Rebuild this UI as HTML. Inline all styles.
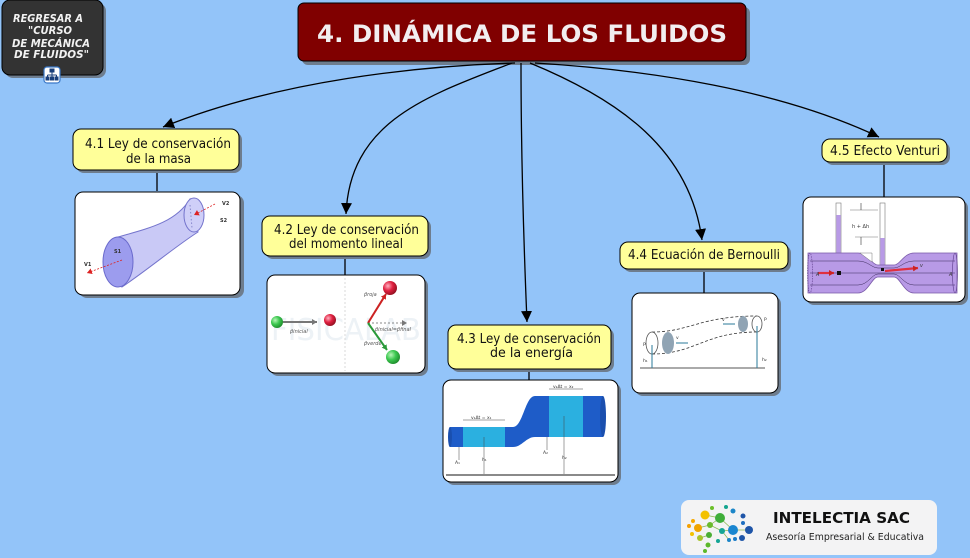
<!DOCTYPE html>
<html><head><meta charset="utf-8"><style>
html,body{margin:0;padding:0;background:#93c4f9;}
svg{display:block;}
text{font-family:"DejaVu Sans","Liberation Sans",sans-serif;}
</style></head><body>
<svg width="970" height="558" viewBox="0 0 970 558" xmlns="http://www.w3.org/2000/svg">
<defs>
<marker id="ah" markerUnits="userSpaceOnUse" markerWidth="12" markerHeight="12" refX="11" refY="6" orient="auto">
<path d="M0,0.5 L11,6 L0,11.5 Z" fill="#000"/>
</marker>
<marker id="sa" markerUnits="userSpaceOnUse" markerWidth="6" markerHeight="6" refX="5" refY="3" orient="auto">
<path d="M0,0 L5,3 L0,6 Z" fill="#dd2222"/>
</marker>
<marker id="ga" markerUnits="userSpaceOnUse" markerWidth="6" markerHeight="6" refX="5" refY="3" orient="auto">
<path d="M0,0 L5,3 L0,6 Z" fill="#777"/>
</marker>
<marker id="gr" markerUnits="userSpaceOnUse" markerWidth="6" markerHeight="6" refX="5" refY="3" orient="auto">
<path d="M0,0 L5,3 L0,6 Z" fill="#2a9a3a"/>
</marker>
<marker id="rd" markerUnits="userSpaceOnUse" markerWidth="6" markerHeight="6" refX="5" refY="3" orient="auto">
<path d="M0,0 L5,3 L0,6 Z" fill="#cc2222"/>
</marker>
<radialGradient id="gball" cx="0.35" cy="0.35" r="0.7"><stop offset="0" stop-color="#b8f5b8"/><stop offset="0.5" stop-color="#3cc850"/><stop offset="1" stop-color="#1e8a2c"/></radialGradient>
<radialGradient id="rball" cx="0.35" cy="0.35" r="0.7"><stop offset="0" stop-color="#ffb0c0"/><stop offset="0.5" stop-color="#e02040"/><stop offset="1" stop-color="#901020"/></radialGradient>
</defs>

<!-- Back button -->
<rect x="5" y="3" width="101" height="75" rx="8" fill="#6e7d8e"/>
<rect x="2" y="0" width="101" height="75" rx="8" fill="#333" stroke="#000" stroke-width="1"/>
<g fill="#f2f2f2" font-weight="bold" font-style="italic" font-size="11" text-anchor="middle">
<text x="48" y="22" textLength="70" lengthAdjust="spacingAndGlyphs">REGRESAR A</text>
<text x="50" y="34" textLength="44" lengthAdjust="spacingAndGlyphs">"CURSO</text>
<text x="51" y="47" textLength="78" lengthAdjust="spacingAndGlyphs">DE MECÁNICA</text>
<text x="51.5" y="58" textLength="75" lengthAdjust="spacingAndGlyphs">DE FLUIDOS"</text>
</g>
<rect x="44" y="67" width="16" height="16" rx="3" fill="#fff" stroke="#3a78c8" stroke-width="1.2"/>
<g stroke="#1a3f7a" stroke-width="1" fill="#1a3f7a">
<rect x="50" y="69" width="4" height="3"/>
<rect x="46" y="77" width="3" height="3"/><rect x="50.5" y="77" width="3" height="3"/><rect x="55" y="77" width="3" height="3"/>
<path d="M52,72 V75 M47.5,75 H56.5 M47.5,75 V77 M56.5,75 V77 M52,75 V77" fill="none"/>
</g>

<!-- Title -->
<rect x="302" y="7" width="448" height="58" rx="6" fill="#6e7d8e"/>
<rect x="298" y="3" width="448" height="58" rx="6" fill="#800000" stroke="#000" stroke-width="1"/>
<text x="522" y="42" font-size="24" font-weight="bold" fill="#f2eef0" text-anchor="middle" textLength="410" lengthAdjust="spacingAndGlyphs">4. DINÁMICA DE LOS FLUIDOS</text>

<!-- Connectors -->
<g fill="none" stroke="#000" stroke-width="1.3" marker-end="url(#ah)">
<path d="M515,63 C420,66 280,80 163,127"/>
<path d="M512,63 C430,95 350,120 346,214"/>
<path d="M521,63 C521,150 524,250 527,322"/>
<path d="M530,63 C620,100 690,150 702,240"/>
<path d="M535,63 C650,70 780,90 879,137"/>
</g>
<g stroke="#000" stroke-width="1.3">
<line x1="157" y1="171" x2="157" y2="191"/>
<line x1="345" y1="256" x2="345" y2="275"/>
<line x1="529" y1="369" x2="529" y2="380"/>
<line x1="704" y1="269" x2="704" y2="293"/>
<line x1="884" y1="162" x2="884" y2="197"/>
</g>

<!-- Nodes -->
<g>
<rect x="76" y="132" width="166" height="41" rx="8" fill="#6e7d8e"/>
<rect x="73" y="129" width="166" height="41" rx="8" fill="#ffff99" stroke="#000"/>
<rect x="265" y="219" width="166" height="40" rx="8" fill="#6e7d8e"/>
<rect x="262" y="216" width="166" height="40" rx="8" fill="#ffff99" stroke="#000"/>
<rect x="451" y="328" width="163" height="44" rx="8" fill="#6e7d8e"/>
<rect x="448" y="325" width="163" height="44" rx="8" fill="#ffff99" stroke="#000"/>
<rect x="623" y="245" width="168" height="27" rx="8" fill="#6e7d8e"/>
<rect x="620" y="242" width="168" height="27" rx="8" fill="#ffff99" stroke="#000"/>
<rect x="825" y="142" width="125" height="23" rx="8" fill="#6e7d8e"/>
<rect x="822" y="139" width="125" height="23" rx="8" fill="#ffff99" stroke="#000"/>
</g>
<g font-size="13" fill="#111" text-anchor="middle">
<text x="158" y="148" textLength="146" lengthAdjust="spacingAndGlyphs">4.1 Ley de conservación</text>
<text x="158.5" y="163" textLength="65" lengthAdjust="spacingAndGlyphs">de la masa</text>
<text x="346.5" y="234" textLength="145" lengthAdjust="spacingAndGlyphs">4.2 Ley de conservación</text>
<text x="346" y="248" textLength="114" lengthAdjust="spacingAndGlyphs">del momento lineal</text>
<text x="529" y="343" textLength="144" lengthAdjust="spacingAndGlyphs">4.3 Ley de conservación</text>
<text x="531.5" y="357" textLength="83" lengthAdjust="spacingAndGlyphs">de la energía</text>
<text x="704" y="259" textLength="152" lengthAdjust="spacingAndGlyphs">4.4 Ecuación de Bernoulli</text>
<text x="885" y="155" textLength="110" lengthAdjust="spacingAndGlyphs">4.5 Efecto Venturi</text>
</g>

<!-- Image boxes -->
<g>
<rect x="79" y="195" width="165" height="103" rx="8" fill="#6e7d8e"/>
<rect x="75" y="192" width="165" height="103" rx="8" fill="#fff" stroke="#000"/>
<rect x="270" y="278" width="158" height="98" rx="8" fill="#6e7d8e"/>
<rect x="267" y="275" width="158" height="98" rx="8" fill="#fff" stroke="#000"/>
<rect x="446" y="383" width="175" height="102" rx="8" fill="#6e7d8e"/>
<rect x="443" y="380" width="175" height="102" rx="8" fill="#fff" stroke="#000"/>
<rect x="635" y="296" width="146" height="100" rx="8" fill="#6e7d8e"/>
<rect x="632" y="293" width="146" height="100" rx="8" fill="#fff" stroke="#000"/>
<rect x="806" y="200" width="162" height="105" rx="8" fill="#6e7d8e"/>
<rect x="803" y="197" width="162" height="105" rx="8" fill="#fff" stroke="#000"/>
</g>

<!-- Image 1: mass -->
<g>
<path d="M118,237 C150,228 176,222 190,199 L198,232 C176,246 150,268 122,287 Z" fill="#c9c9f6" stroke="#7474cc" stroke-width="1"/>
<ellipse cx="194" cy="215" rx="10" ry="17" fill="#cfcff8" stroke="#7474cc"/>
<ellipse cx="118" cy="262" rx="15" ry="25" fill="#9c9cee" stroke="#6a6acc"/>
<line x1="190" y1="205" x2="192" y2="228" stroke="#8888cc" stroke-dasharray="1.5,2"/>
<line x1="122" y1="260" x2="87" y2="273" stroke="#dd2222" stroke-width="0.8" stroke-dasharray="2,1.5" marker-end="url(#sa)"/>
<line x1="215" y1="204" x2="194" y2="215" stroke="#dd2222" stroke-width="0.8" stroke-dasharray="2,1.5" marker-end="url(#sa)"/>
<g font-size="5" font-weight="bold" fill="#333">
<text x="84" y="266">V1</text><text x="114" y="253">S1</text><text x="222" y="205">V2</text><text x="220" y="222">S2</text>
</g>
</g>

<!-- Image 2: momentum -->
<g>
<text x="271" y="340" font-size="30" fill="#edf2f6" textLength="150" lengthAdjust="spacingAndGlyphs">FISICALAB</text>
<line x1="345" y1="278" x2="345" y2="371" stroke="#d8d8d8" stroke-dasharray="2,2"/>
<line x1="283" y1="322" x2="317" y2="322" stroke="#777" stroke-width="2" marker-end="url(#ga)"/>
<circle cx="277" cy="322" r="6" fill="url(#gball)"/>
<circle cx="330" cy="320" r="6" fill="url(#rball)"/>
<line x1="368" y1="323" x2="407" y2="323" stroke="#888" stroke-dasharray="2,2" marker-end="url(#ga)"/>
<line x1="368" y1="323" x2="386" y2="294" stroke="#cc2222" stroke-width="2" marker-end="url(#rd)"/>
<line x1="368" y1="323" x2="387" y2="350" stroke="#2a9a3a" stroke-width="2" marker-end="url(#gr)"/>
<circle cx="390" cy="288" r="7" fill="url(#rball)"/>
<circle cx="393" cy="357" r="7" fill="url(#gball)"/>
<g font-size="5" fill="#555" font-style="italic">
<text x="290" y="333">p̄inicial</text><text x="364" y="296">p̄roja</text><text x="375" y="331">p̄inicial=p̄final</text><text x="364" y="345">p̄verde</text>
</g>
</g>

<!-- Image 3: energy -->
<g>
<path d="M450,427 L513,427 C523,427 525,396 535,396 L603,396 L603,437 L535,437 C526,437 522,447 513,447 L450,447 Z" fill="#1e5cc8"/>
<ellipse cx="603" cy="416.5" rx="3" ry="20.5" fill="#1a4fae"/>
<ellipse cx="450" cy="437" rx="2" ry="10" fill="#1a4fae"/>
<rect x="463" y="427" width="42" height="20" fill="#2bb0e0"/>
<rect x="549" y="396" width="34" height="41" fill="#2bb0e0"/>
<line x1="446" y1="475" x2="615" y2="475" stroke="#8a8a8a" stroke-width="2"/>
<line x1="484" y1="437" x2="484" y2="474" stroke="#444" stroke-width="0.5"/>
<line x1="564" y1="416" x2="564" y2="474" stroke="#444" stroke-width="0.5"/>
<line x1="459" y1="447" x2="459" y2="460" stroke="#444" stroke-width="0.5"/>
<line x1="547" y1="437" x2="547" y2="450" stroke="#444" stroke-width="0.5"/>
<line x1="463" y1="420" x2="505" y2="420" stroke="#444" stroke-width="0.5"/>
<line x1="549" y1="389" x2="583" y2="389" stroke="#444" stroke-width="0.5"/>
<g font-size="4.5" fill="#333">
<text x="471" y="419">v₁Δt = x₁</text><text x="553" y="388">v₂Δt = x₂</text>
<text x="455" y="464">A₁</text><text x="482" y="461">h₁</text><text x="543" y="454">A₂</text><text x="562" y="459">h₂</text>
</g>
</g>

<!-- Image 4: Bernoulli -->
<g>
<path d="M652,332 C690,332 700,316 757,316" fill="none" stroke="#333" stroke-width="0.8" stroke-dasharray="3,2"/>
<path d="M652,354 C695,354 705,332 757,332" fill="none" stroke="#333" stroke-width="0.8" stroke-dasharray="3,2"/>
<ellipse cx="652" cy="343" rx="6" ry="11" fill="none" stroke="#555" stroke-width="0.8"/>
<ellipse cx="668" cy="343" rx="6" ry="11" fill="#90a4b4"/>
<ellipse cx="743" cy="324" rx="5" ry="8" fill="#90a4b4"/>
<ellipse cx="757" cy="324" rx="5" ry="8" fill="none" stroke="#555" stroke-width="0.8"/>
<line x1="640" y1="368" x2="765" y2="368" stroke="#555" stroke-width="1"/>
<line x1="652" y1="368" x2="652" y2="345" stroke="#2a7a99" stroke-width="1"/>
<line x1="757" y1="368" x2="757" y2="326" stroke="#2a7a99" stroke-width="1"/>
<line x1="676" y1="343" x2="688" y2="343" stroke="#2a7a99" stroke-width="1"/>
<line x1="723" y1="324" x2="735" y2="324" stroke="#2a7a99" stroke-width="1"/>
<g font-size="4.5" fill="#333"><text x="643" y="346">P</text><text x="676" y="339">v</text><text x="722" y="321">v</text><text x="764" y="321">P</text><text x="643" y="362">h₁</text><text x="762" y="361">h₂</text></g>
</g>

<!-- Image 5: Venturi -->
<g>
<rect x="836" y="203" width="5" height="51" fill="#fff" stroke="#777" stroke-width="0.6"/>
<rect x="836.3" y="215" width="4.4" height="39" fill="#b89ae6"/>
<rect x="880" y="203" width="5" height="63" fill="#fff" stroke="#777" stroke-width="0.6"/>
<rect x="880.3" y="238" width="4.4" height="28" fill="#b89ae6"/>
<line x1="850" y1="210" x2="878" y2="210" stroke="#777" stroke-width="0.6"/>
<line x1="855" y1="237" x2="878" y2="237" stroke="#777" stroke-width="0.6"/>
<line x1="861" y1="203" x2="861" y2="210" stroke="#333" stroke-width="0.6"/>
<line x1="861" y1="237" x2="861" y2="245" stroke="#333" stroke-width="0.6"/>
<text x="852" y="228" font-size="5" fill="#333">h + Δh</text>
<path d="M808,253 L858,253 C868,253 872,265 878,265 L894,265 C900,265 904,253 914,253 L957,253 L957,293 L914,293 C904,293 900,277 894,277 L878,277 C872,277 868,293 858,293 L808,293 Z" fill="#b89ae6" stroke="#7a5aa8" stroke-width="0.8"/>
<path d="M810,261 L858,261 C868,261 872,268 878,268 L894,268 C900,268 904,261 914,261 L955,261 M810,273 L955,273 M810,285 L858,285 C868,285 872,274 878,274 L894,274 C900,274 904,285 914,285 L955,285" fill="none" stroke="#3a2a5a" stroke-width="0.5"/>
<ellipse cx="810" cy="273" rx="2.5" ry="20" fill="none" stroke="#5a3a88" stroke-width="0.6" stroke-dasharray="1.5,1"/>
<ellipse cx="955" cy="273" rx="2.5" ry="20" fill="none" stroke="#5a3a88" stroke-width="0.6"/>
<path d="M860,253 L872,253 L872,262 Z" fill="#fff" stroke="#555" stroke-width="0.4"/>
<line x1="818" y1="273" x2="834" y2="273" stroke="#e03040" stroke-width="2.2" marker-end="url(#rd)"/>
<rect x="837" y="271" width="4" height="4" fill="#111"/>
<line x1="885" y1="271" x2="918" y2="268" stroke="#e03040" stroke-width="2.2" marker-end="url(#rd)"/>
<rect x="881" y="268" width="3" height="3" fill="#111"/>
<g font-size="5" font-style="italic" fill="#333"><text x="816" y="276">A</text><text x="920" y="267">v</text><text x="949" y="276">A</text></g>
</g>

<!-- Logo -->
<rect x="681" y="500" width="256" height="55" rx="8" fill="#f3f3f4"/>
<g stroke-width="0.7" fill="none">
<path d="M705,515 L720,518 L733,530 L749,530 M698,528 L710,525 L720,518 M710,525 L722,531 L733,530 M709,535 L700,538 M722,531 L729,540" stroke="#8ab850"/>
</g>
<g>
<circle cx="705" cy="515" r="4.5" fill="#f3c100"/>
<circle cx="712" cy="508" r="2" fill="#6cbf2a"/>
<circle cx="720" cy="518" r="5" fill="#3fae3a"/>
<circle cx="726" cy="507" r="2" fill="#14a58f"/>
<circle cx="733" cy="511" r="2.5" fill="#1c86c8"/>
<circle cx="693" cy="521" r="2" fill="#f5a800"/>
<circle cx="698" cy="528" r="4" fill="#f0a400"/>
<circle cx="710" cy="525" r="3" fill="#6bbb2c"/>
<circle cx="722" cy="531" r="3" fill="#14a595"/>
<circle cx="733" cy="530" r="5" fill="#1a86d0"/>
<circle cx="743" cy="523" r="2" fill="#1f6fc0"/>
<circle cx="749" cy="530" r="4" fill="#1e55a8"/>
<circle cx="743" cy="516" r="2.5" fill="#1e55a8"/>
<circle cx="689" cy="526" r="2" fill="#f5a000"/>
<circle cx="700" cy="538" r="3" fill="#a8c42a"/>
<circle cx="709" cy="535" r="3" fill="#4aae34"/>
<circle cx="708" cy="545" r="2.5" fill="#5cb82a"/>
<circle cx="718" cy="541" r="2" fill="#14a595"/>
<circle cx="729" cy="540" r="2" fill="#1c86c8"/>
<circle cx="735" cy="539" r="2" fill="#1c7cc8"/>
<circle cx="742" cy="538" r="3" fill="#1e55a8"/>
<circle cx="705" cy="551" r="2" fill="#5cb82a"/>
<circle cx="692" cy="534" r="2" fill="#f3c100"/>
</g>
<text x="773" y="523" font-size="15" font-weight="bold" fill="#111" textLength="137" lengthAdjust="spacingAndGlyphs">INTELECTIA SAC</text>
<text x="766" y="540" font-size="10" fill="#222" textLength="158" lengthAdjust="spacingAndGlyphs">Asesoría Empresarial &amp; Educativa</text>
</svg>
</body></html>
